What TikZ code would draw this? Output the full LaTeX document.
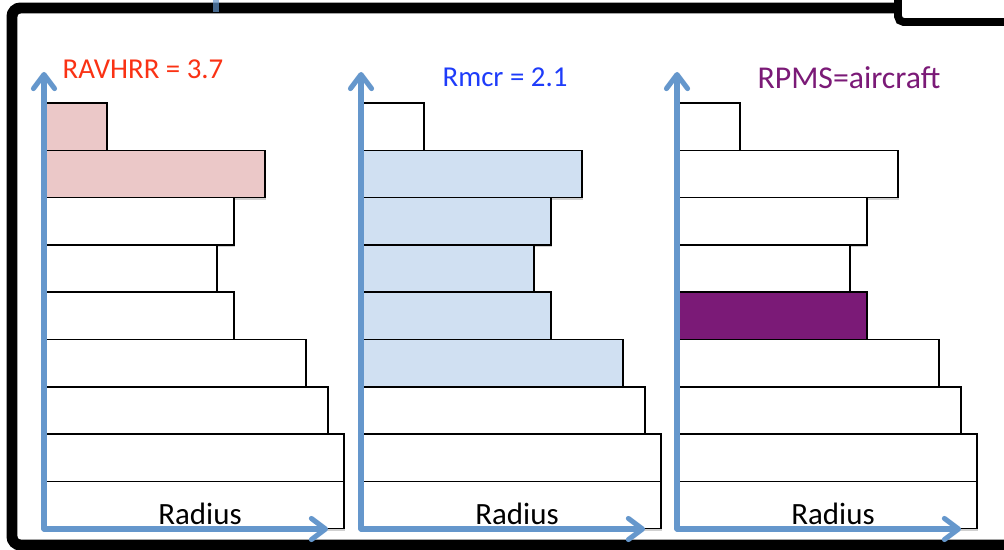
\documentclass[tikz,border=0pt]{standalone}
\usepackage{fontspec}
\setmainfont{Carlito}
\usetikzlibrary{arrows.meta,shadows}
\definecolor{axis_blue}{RGB}{101,151,204}
\definecolor{bar_pink}{RGB}{235,200,200}
\definecolor{bar_blue}{RGB}{208,224,242}
\definecolor{bar_purple}{RGB}{123,26,119}
\definecolor{text_red}{RGB}{250,50,20}
\definecolor{text_blue}{RGB}{30,60,250}
\definecolor{text_purple}{RGB}{123,26,119}

\begin{document}
\begin{tikzpicture}[x=0.025cm,y=-0.025cm]
    \tikzstyle{bar}=[draw=black, line width=1pt, drop shadow={shadow xshift=1pt, shadow yshift=-1.5pt, opacity=0.18, fill=black}]
    \tikzstyle{axis}=[draw=axis_blue, line width=3.6pt, line cap=round, -{Straight Barb[length=10pt,width=15pt,round]}]
    \tikzstyle{title}=[font=\fontsize{20.5}{23}\selectfont, anchor=base]
    \tikzstyle{radius}=[font=\fontsize{22}{25}\selectfont, anchor=base, text=black]

    \useasboundingbox (0,0) rectangle (1004,550);
    \fill[white] (0,0) rectangle (1004,550);

    % frame and the box cut at the top right
    \draw[line width=7.8pt, rounded corners=6pt] (12,8) rectangle (1030,545);
    \draw[fill=white, line width=5.6pt, rounded corners=4pt] (898,-20) rectangle (1040,22);
    \draw[axis_blue, line width=4pt, opacity=0.7] (216,-6) -- (216,12);

    % three panels: axis x, fill colour, first and last filled row
    \foreach \x/\c/\a/\b [count=\p] in {44/bar_pink/1/2, 361/bar_blue/2/6, 677/bar_purple/5/5} {
      \foreach \w [count=\i] in {63,221,190,173,190,262,284,300,300} {
        \pgfmathtruncatemacro\isfill{and(\i>=\a,\i<=\b)}
        \ifnum\isfill=1 \def\fc{\c}\else\def\fc{white}\fi
        \draw[bar, fill=\fc] (\x+1,103+47.3*\i-47.3) rectangle (\x+\w,103+47.3*\i);
      }
      \coordinate (o\p)   at (\x,529);
      \coordinate (top\p) at (\x,72);
      \coordinate (end\p) at (\x+284,529);
      \draw[axis] (o\p) -- (top\p);
      \draw[axis] (o\p) -- (end\p);
      \node[radius] (rad\p) at (\x+156,524) {Radius};
    }

    \node[title, text=text_red]    (lab1) at (143,79) {RAVHRR = 3.7};
    \node[title, text=text_blue]   (lab2) at (505,87) {Rmcr = 2.1};
    \node[title, text=text_purple, font=\fontsize{22.6}{25}\selectfont] (lab3) at (849,89) {RPMS=aircraft};
\end{tikzpicture}
\end{document}
